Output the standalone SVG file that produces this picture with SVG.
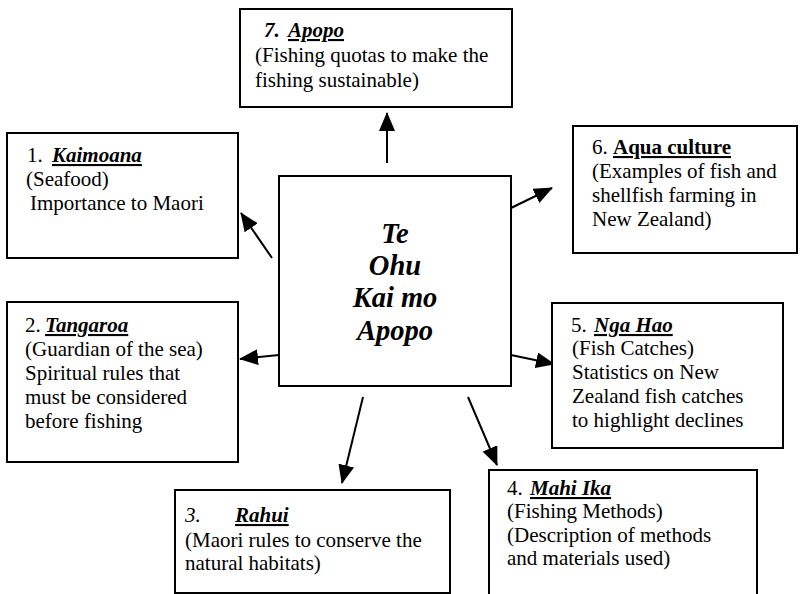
<svg xmlns="http://www.w3.org/2000/svg" width="800" height="594" viewBox="0 0 800 594">
<defs>
<style>
.box{fill:#fff;stroke:#000;stroke-width:2}
text{font-family:'Liberation Serif','Times New Roman',serif;font-size:21px;fill:#000}
.h{font-weight:bold;font-style:italic;text-decoration:underline}
.hb{font-weight:bold;text-decoration:underline}
.it{font-style:italic}
.c{font-weight:bold;font-style:italic;font-size:28.5px;text-anchor:middle}
.ln{stroke:#000;stroke-width:2;fill:none;marker-end:url(#ah)}
</style>
<marker id="ah" markerUnits="userSpaceOnUse" markerWidth="19" markerHeight="16" refX="18" refY="8" orient="auto">
<path d="M0,0 L19,8 L0,16 z" fill="#000"/>
</marker>
</defs>
<rect width="800" height="594" fill="#fff"/>
<g id="connectors">
<line class="ln" x1="387" y1="163" x2="387" y2="113"/>
<line class="ln" x1="272" y1="258" x2="241" y2="213"/>
<line class="ln" x1="511" y1="208" x2="552" y2="188"/>
<line class="ln" x1="279" y1="355" x2="240" y2="359"/>
<line class="ln" x1="511" y1="355" x2="554" y2="364"/>
<line class="ln" x1="363" y1="397" x2="342" y2="483"/>
<line class="ln" x1="468" y1="397" x2="497" y2="465"/>
</g>
<g id="center">
<rect class="box" x="279" y="176" width="232" height="210"/>
<text class="c" x="395" y="243">Te</text>
<text class="c" x="395" y="275">Ohu</text>
<text class="c" x="395" y="307">Kai mo</text>
<text class="c" x="395" y="340">Apopo</text>
</g>
<g id="n7">
<rect class="box" x="240" y="9" width="272" height="98"/>
<text x="264" y="37" class="it" font-weight="bold">7.</text>
<text x="288" y="37" class="h">Apopo</text>
<text x="255" y="62">(Fishing quotas to make the</text>
<text x="255" y="87">fishing sustainable)</text>
</g>
<g id="n1">
<rect class="box" x="7" y="133" width="231" height="125"/>
<text x="27" y="162">1.</text>
<text x="52" y="162" class="h">Kaimoana</text>
<text x="26" y="186">(Seafood)</text>
<text x="30" y="210">Importance to Maori</text>
</g>
<g id="n6">
<rect class="box" x="573" y="126" width="224" height="127"/>
<text x="592" y="154">6.</text>
<text x="613" y="154" class="hb">Aqua culture</text>
<text x="592" y="178">(Examples of fish and</text>
<text x="592" y="202">shellfish farming in</text>
<text x="592" y="226">New Zealand)</text>
</g>
<g id="n2">
<rect class="box" x="7" y="302" width="231" height="160"/>
<text x="25" y="332">2.</text>
<text x="45" y="332" class="h">Tangaroa</text>
<text x="25" y="356">(Guardian of the sea)</text>
<text x="25" y="380">Spiritual rules that</text>
<text x="25" y="404">must be considered</text>
<text x="25" y="428">before fishing</text>
</g>
<g id="n5">
<rect class="box" x="552" y="303" width="231" height="145"/>
<text x="571" y="332">5.</text>
<text x="594" y="332" class="h">Nga Hao</text>
<text x="572" y="355">(Fish Catches)</text>
<text x="572" y="379">Statistics on New</text>
<text x="572" y="403">Zealand fish catches</text>
<text x="572" y="427">to highlight declines</text>
</g>
<g id="n3">
<rect class="box" x="175" y="490" width="275" height="103"/>
<text x="185" y="522" class="it">3.</text>
<text x="235" y="522" class="h">Rahui</text>
<text x="185" y="547">(Maori rules to conserve the</text>
<text x="185" y="570">natural habitats)</text>
</g>
<g id="n4">
<rect class="box" x="489" y="470" width="268" height="140"/>
<text x="507" y="495">4.</text>
<text x="530" y="495" class="h">Mahi Ika</text>
<text x="507" y="518">(Fishing Methods)</text>
<text x="507" y="542">(Description of methods</text>
<text x="507" y="565">and materials used)</text>
</g>
</svg>
